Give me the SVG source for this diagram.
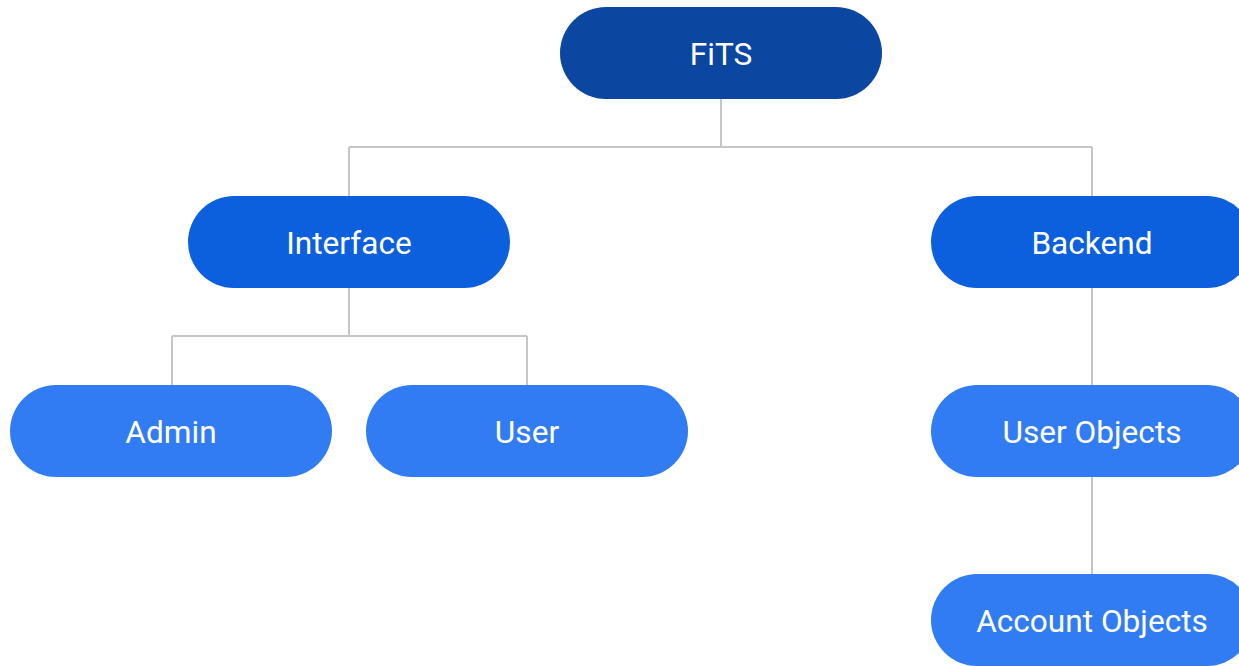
<svg xmlns="http://www.w3.org/2000/svg" width="1239" height="666" viewBox="0 0 1239 666">
  <style>
    .node text { font-family: Roboto, "Liberation Sans", sans-serif; font-size: 31.6px; fill: #ffffff; text-anchor: middle; dominant-baseline: central; }
    .root rect { fill: #0b46a0; }
    .mid rect { fill: #0c5fdd; }
    .leaf rect { fill: #327cf3; }
    .links path { fill: none; stroke: #c6c6c6; stroke-width: 2; }
  </style>
  <rect width="1239" height="666" fill="#ffffff"/>
  <g class="links">
    <path d="M721 99 V147 M349 147 H1092 M349 147 V196 M1092 147 V196"/>
    <path d="M349 288 V336 M172 336 H527 M172 336 V385 M527 336 V385"/>
    <path d="M1092 288 V385"/>
    <path d="M1092 477 V574"/>
  </g>
  <g id="fits" class="node root">
    <rect x="560" y="7" width="322" height="92" rx="46"/>
    <text x="721" y="54">FiTS</text>
  </g>
  <g id="interface" class="node mid">
    <rect x="188" y="196" width="322" height="92" rx="46"/>
    <text x="349" y="243">Interface</text>
  </g>
  <g id="backend" class="node mid">
    <rect x="931" y="196" width="322" height="92" rx="46"/>
    <text x="1092" y="243">Backend</text>
  </g>
  <g id="admin" class="node leaf">
    <rect x="10" y="385" width="322" height="92" rx="46"/>
    <text x="171" y="432">Admin</text>
  </g>
  <g id="user" class="node leaf">
    <rect x="366" y="385" width="322" height="92" rx="46"/>
    <text x="527" y="432">User</text>
  </g>
  <g id="user-objects" class="node leaf">
    <rect x="931" y="385" width="322" height="92" rx="46"/>
    <text x="1092" y="432">User Objects</text>
  </g>
  <g id="account-objects" class="node leaf">
    <rect x="931" y="574" width="322" height="92" rx="46"/>
    <text x="1092" y="621">Account Objects</text>
  </g>
</svg>
